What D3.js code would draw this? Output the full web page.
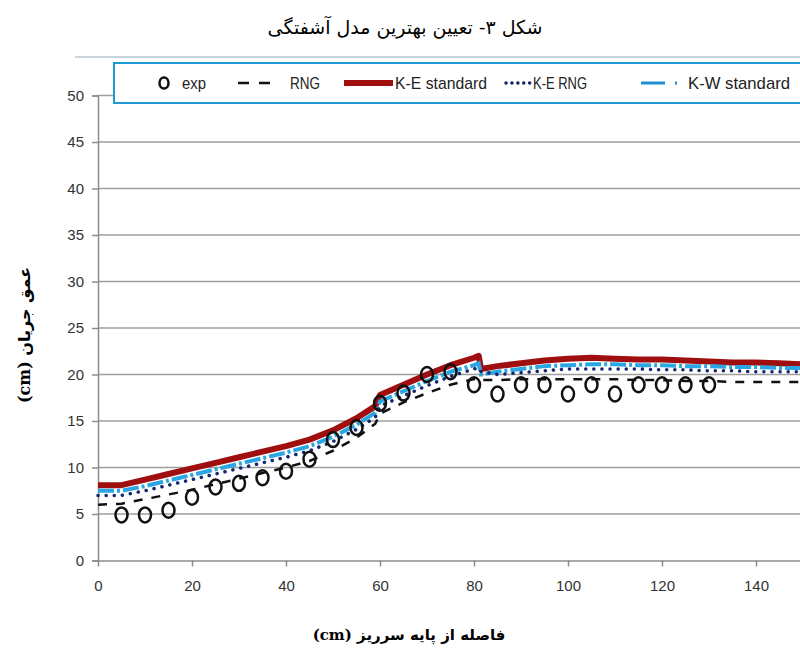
<!DOCTYPE html>
<html>
<head>
<meta charset="utf-8">
<script src="https://cdn.jsdelivr.net/npm/d3@7"></script>
<style>
  body { margin: 0; background: #fff; }
  svg { display: block; }
</style>
</head>
<body>
<div id="chart"></div>
<script>
// ---------- data ----------
const expX = [5,10,15,20,25,30,35,40,45,50,55,60,65,70,75,80,85,90,95,100,105,110,115,120,125,130];
const expY = [4.9,4.9,5.4,6.8,7.9,8.3,8.9,9.6,10.9,13.0,14.3,16.9,18.0,20.0,20.3,18.9,17.9,18.9,18.9,17.9,18.9,17.9,18.9,18.9,18.9,18.9];

const modelX = [0,5,10,15,20,25,30,35,40,45,50,55,59,60,65,70,75,80,81,81.5,85,90,95,100,105,110,115,120,125,130,135,140,145,150];
const rngY   = [6.0,6.1,6.6,7.1,7.6,8.2,8.8,9.4,10.0,10.7,11.8,13.2,14.7,15.8,17.0,18.0,18.9,19.5,19.6,19.4,19.4,19.5,19.5,19.5,19.5,19.5,19.4,19.4,19.3,19.3,19.2,19.2,19.2,19.2];
const keStdY = [8.1,8.1,8.7,9.3,9.9,10.5,11.1,11.7,12.3,13.0,14.0,15.3,16.6,17.8,18.9,20.0,21.0,21.8,22.0,20.6,20.9,21.2,21.5,21.7,21.8,21.7,21.6,21.6,21.5,21.4,21.3,21.3,21.2,21.1];
const keRngY = [7.0,7.0,7.5,8.1,8.7,9.3,9.9,10.5,11.1,11.8,12.8,14.1,15.4,16.6,17.7,18.8,19.8,20.6,20.7,20.3,20.0,20.2,20.4,20.6,20.6,20.6,20.6,20.5,20.5,20.4,20.4,20.3,20.3,20.3];
const kwStdY = [7.5,7.5,8.0,8.6,9.2,9.8,10.4,11.0,11.6,12.3,13.3,14.6,15.9,17.1,18.2,19.3,20.3,21.0,21.2,20.0,20.3,20.6,20.9,21.0,21.1,21.1,21.0,21.0,20.9,20.9,20.8,20.8,20.7,20.7];

const xTicks = [0,20,40,60,80,100,120,140];
const yTicks = [0,5,10,15,20,25,30,35,40,45,50];

const legendLabels = ["exp","RNG","K-E standard","K-E RNG","K-W standard"];
const titleText = "شکل ۳- تعیین بهترین مدل آشفتگی";
const xTitle = "فاصله از پایه سرریز (cm)";
const yTitle = "عمق جریان (cm)";

// ---------- layout ----------
const W = 800, H = 650;
const svg = d3.select("#chart").append("svg").attr("width", W).attr("height", H);

const x = d3.scaleLinear().domain([0, 150]).range([98, 803]);
const y = d3.scaleLinear().domain([0, 50]).range([560.5, 95.5]);

const tickFont = "'Liberation Sans',Arial,sans-serif";

// top border line
svg.append("line").attr("x1", 75).attr("x2", 800).attr("y1", 57).attr("y2", 57)
  .attr("stroke", "#b9c6cf").attr("stroke-width", 1.5);

// title
svg.append("text").attr("x", 405).attr("y", 34).attr("text-anchor", "middle")
  .attr("font-family", "'DejaVu Serif','DejaVu Sans',serif").attr("font-size", 19)
  .attr("direction", "rtl").text(titleText);

// gridlines
svg.append("g").selectAll("line").data(yTicks.filter(d => d > 0)).join("line")
  .attr("x1", x(0)).attr("x2", 800)
  .attr("y1", d => y(d)).attr("y2", d => y(d))
  .attr("stroke", "#9e9e9e").attr("stroke-width", 1.5);

// axes
const yAxis = d3.axisLeft(y).tickValues(yTicks).tickSize(6).tickPadding(8);
const gy = svg.append("g").attr("transform", `translate(${x(0)},0)`).call(yAxis);
const xAxis = d3.axisBottom(x).tickValues(xTicks).tickSize(6).tickPadding(14);
const gx = svg.append("g").attr("transform", `translate(0,${y(0)})`).call(xAxis);
[gx, gy].forEach(g => {
  g.select(".domain").attr("stroke", "#8c8c8c").attr("stroke-width", 1.5);
  g.selectAll(".tick line").attr("stroke", "#8c8c8c").attr("stroke-width", 1.5);
  g.selectAll(".tick text").attr("font-family", tickFont).attr("font-size", 15)
    .attr("fill", "#333");
});
gx.select(".domain").attr("d", `M${x(0)},0.5H800`);

// series
const line = yv => d3.line().x((d, i) => x(modelX[i])).y((d, i) => y(yv[i]))(modelX);
const plot = svg.append("g");

plot.append("path").attr("d", line(keStdY)).attr("fill", "none")
  .attr("stroke", "#a00f10").attr("stroke-width", 6).attr("stroke-linejoin", "round");
plot.append("path").attr("d", line(kwStdY)).attr("fill", "none")
  .attr("stroke", "#2aa6e2").attr("stroke-width", 4).attr("stroke-dasharray", "16,3,3,3");
plot.append("path").attr("d", line(keRngY)).attr("fill", "none")
  .attr("stroke", "#14286e").attr("stroke-width", 3.5).attr("stroke-linecap", "round")
  .attr("stroke-dasharray", "0.1,8");
plot.append("path").attr("d", line(rngY)).attr("fill", "none")
  .attr("stroke", "#111").attr("stroke-width", 2.5).attr("stroke-dasharray", "9,9");

plot.append("g").selectAll("ellipse").data(expX).join("ellipse")
  .attr("cx", (d, i) => x(d)).attr("cy", (d, i) => y(expY[i]))
  .attr("rx", 6).attr("ry", 7.5)
  .attr("fill", "none").attr("stroke", "#111").attr("stroke-width", 2.5);

// legend
const lg = svg.append("g");
lg.append("rect").attr("x", 114).attr("y", 63).attr("width", 700).attr("height", 40)
  .attr("fill", "#fff").attr("stroke", "#1e9ad6").attr("stroke-width", 2);
const ly = 83;
lg.append("ellipse").attr("cx", 164).attr("cy", ly).attr("rx", 4.5).attr("ry", 5.5)
  .attr("fill", "none").attr("stroke", "#111").attr("stroke-width", 2.5);
lg.append("line").attr("x1", 238).attr("x2", 270).attr("y1", ly).attr("y2", ly)
  .attr("stroke", "#111").attr("stroke-width", 2.5).attr("stroke-dasharray", "11,10");
lg.append("line").attr("x1", 344).attr("x2", 393).attr("y1", ly).attr("y2", ly)
  .attr("stroke", "#a00f10").attr("stroke-width", 6);
lg.append("line").attr("x1", 506).attr("x2", 530).attr("y1", ly).attr("y2", ly)
  .attr("stroke", "#14286e").attr("stroke-width", 3.5).attr("stroke-linecap", "round")
  .attr("stroke-dasharray", "0.1,5.8");
lg.append("line").attr("x1", 641).attr("x2", 679).attr("y1", ly).attr("y2", ly)
  .attr("stroke", "#1e8fd0").attr("stroke-width", 3).attr("stroke-dasharray", "24,10,2,10");

const legendPos = [[182, 24], [290, 30], [395, 92], [533, 54], [688, 102]];
lg.selectAll("text.lab").data(legendLabels).join("text").attr("class", "lab")
  .attr("x", (d, i) => legendPos[i][0]).attr("y", ly + 6)
  .attr("textLength", (d, i) => legendPos[i][1]).attr("lengthAdjust", "spacingAndGlyphs")
  .attr("font-family", tickFont).attr("font-size", 17).attr("fill", "#222")
  .text(d => d);

// axis titles
svg.append("text").attr("x", 409).attr("y", 640).attr("text-anchor", "middle")
  .attr("font-family", "'DejaVu Serif','DejaVu Sans',serif").attr("font-weight", "bold")
  .attr("font-size", 15).attr("direction", "rtl").text(xTitle);
svg.append("text").attr("transform", "translate(30,335) rotate(-90)")
  .attr("text-anchor", "middle")
  .attr("font-family", "'DejaVu Serif','DejaVu Sans',serif").attr("font-weight", "bold")
  .attr("font-size", 16).attr("direction", "rtl").text(yTitle);
</script>
</body>
</html>
